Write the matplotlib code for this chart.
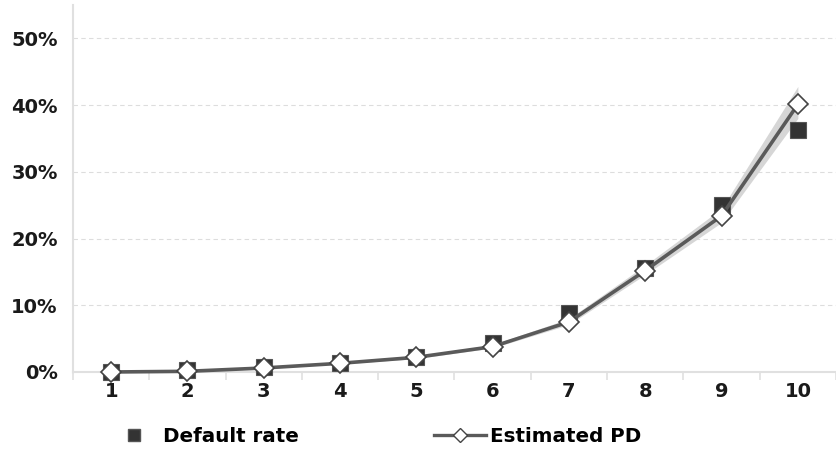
import numpy as np
import matplotlib.pyplot as plt
from matplotlib.lines import Line2D

plt.rcParams['font.family'] = ['DejaVu Sans']

# rating grades and observed / estimated default probabilities
grades = [1, 2, 3, 4, 5, 6, 7, 8, 9, 10]
default_rate = [0.000, 0.003, 0.007, 0.013, 0.022, 0.044, 0.089, 0.156, 0.250, 0.362]
estimated_pd = [0.000, 0.001, 0.006, 0.013, 0.022, 0.038, 0.075, 0.152, 0.234, 0.401]
pd_lower = [0.000, 0.000, 0.005, 0.012, 0.020, 0.036, 0.071, 0.146, 0.224, 0.380]
pd_upper = [0.000, 0.002, 0.007, 0.014, 0.024, 0.041, 0.080, 0.160, 0.245, 0.428]

fig = plt.figure(figsize=(8.36, 4.58), dpi=100)
ax = fig.add_axes([0.0873, 0.1878, 0.9127, 0.8013])

x = np.arange(len(grades))
ax.fill_between(x, pd_lower, pd_upper, color='#d6d6d6', lw=0, zorder=2)
ax.plot(x, default_rate, ls='none', marker='s', ms=12, mfc='#333333',
        mec='#555555', mew=0.8, zorder=3, clip_on=False)
ax.plot(x, estimated_pd, color='#5a5a5a', lw=2.6, marker='D', ms=10.5,
        mfc='white', mec='#444444', mew=1.2, zorder=4, clip_on=False)

ax.set_xlim(-0.5, len(grades) - 0.5)
ax.set_ylim(0, 0.55)
ax.set_yticks([0, 0.1, 0.2, 0.3, 0.4, 0.5])
ax.set_yticklabels(['0%', '10%', '20%', '30%', '40%', '50%'])
ax.set_xticks(x)
ax.set_xticklabels([str(g) for g in grades])
ax.set_xticks(np.arange(len(grades) + 1) - 0.5, minor=True)

ax.grid(axis='y', color='#dddddd', ls=(0, (4, 3)), lw=0.8)
ax.set_axisbelow(True)
for side in ['top', 'right']:
    ax.spines[side].set_visible(False)
ax.spines['left'].set_color('#e0e0e0')
ax.spines['bottom'].set_color('#e0e0e0')
ax.spines['left'].set_linewidth(1.5)
ax.spines['bottom'].set_linewidth(1.5)

ax.tick_params(axis='y', length=0, pad=11, labelsize=14, labelcolor='#1a1a1a')
ax.tick_params(axis='x', which='major', length=0, pad=7, labelsize=14, labelcolor='#1a1a1a')
ax.tick_params(axis='x', which='minor', length=6, color='#e0e0e0', width=1.2)
for lab in ax.get_xticklabels() + ax.get_yticklabels():
    lab.set_fontweight('bold')

handles = [
    Line2D([], [], ls='none', marker='s', ms=8, mfc='#333333', mec='#555555'),
    Line2D([], [], color='#5a5a5a', lw=2.4, marker='D', ms=7, mfc='white', mec='#444444'),
]
fig.legend(handles, ['Default rate', 'Estimated PD'], loc='center left',
           bbox_to_anchor=(0.129, 0.046), ncol=2, frameon=False,
           prop={'weight': 'bold', 'size': 14.3}, handlelength=2.6,
           handletextpad=0.2, columnspacing=6.8, borderpad=0, borderaxespad=0)

fig.savefig('out.png', dpi=100)
